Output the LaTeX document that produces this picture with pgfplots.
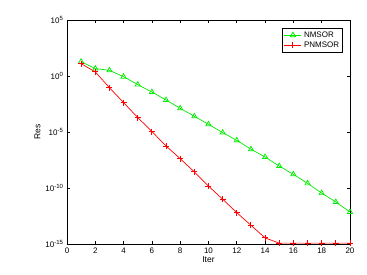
\documentclass[border=0pt]{standalone}
\usepackage{fontspec}
\setmainfont{Liberation Sans}
\usepackage{pgfplots}
\pgfplotsset{compat=1.18}
\definecolor{mgreen}{rgb}{0,0.92,0}
\definecolor{mred}{rgb}{1,0,0}
\begin{document}
\begin{tikzpicture}
\begin{axis}[
  at={(0,0)}, anchor=south west,
  scale only axis, width=283pt, height=224pt,
  xmin=0, xmax=20, ymode=log, ymin=1e-15, ymax=1e5,
  xtick={0,2,...,20},
  ytick={1e-15,1e-10,1e-5,1,1e5},
  yticklabels={10\textsuperscript{-15},10\textsuperscript{-10},10\textsuperscript{-5},10\textsuperscript{0},10\textsuperscript{5}},
  minor tick num=0, minor ytick={},
  tick align=inside, major tick length=3pt,
  tick style={black, line width=0.6pt},
  axis line style={line width=0.8pt},
  /pgf/number format/assume math mode=true,
  tick label style={font=\fontsize{8}{9}\selectfont},
  label style={font=\fontsize{8.5}{9}\selectfont},
  xlabel={Iter}, ylabel={Res},
  xlabel style={yshift=3pt},
  ylabel style={yshift=-2pt},
  legend style={at={(0.975,0.965)}, anchor=north east, font=\fontsize{8}{9}\selectfont,
    draw=black, line width=0.6pt, inner sep=1.5pt, row sep=-1pt},
  legend cell align=left,
]
\addplot[color=mgreen, line width=0.7pt, mark=triangle, mark size=3pt, mark options={solid}, forget plot] coordinates {
(1,1.9e1) (2,4.6) (3,3.2) (4,0.87) (5,0.17) (6,0.037) (7,0.0072) (8,0.0013)
(9,2.5e-4) (10,4.9e-5) (11,8.9e-6) (12,1.8e-6) (13,2.9e-7) (14,5.9e-8) (15,9.1e-9)
(16,1.66e-9) (17,2.6e-10) (18,3.5e-11) (19,5.6e-12) (20,7.2e-13)};
\addplot[color=mred, line width=0.7pt, mark=+, mark size=3pt, mark options={solid, line width=1pt}, forget plot] coordinates {
(1,1.26e1) (2,2.3) (3,0.091) (4,4.2e-3) (5,1.95e-4) (6,1.1e-5) (7,5.6e-7) (8,4.2e-8)
(9,2.7e-9) (10,1.5e-10) (11,1e-11) (12,6.3e-13) (13,4.7e-14) (14,3.5e-15)
(15,1.2e-15) (16,1.2e-15) (17,1.2e-15) (18,1.2e-15) (19,1.2e-15) (20,1.2e-15)};
\addlegendimage{color=mgreen, line width=0.8pt, mark=triangle, mark size=3pt}
\addlegendentry{NMSOR}
\addlegendimage{color=mred, line width=1.1pt, mark=+, mark size=3pt}
\addlegendentry{PNMSOR}
\end{axis}
\useasboundingbox (-67pt,-31pt) rectangle (300pt,244pt);
\end{tikzpicture}
\end{document}
